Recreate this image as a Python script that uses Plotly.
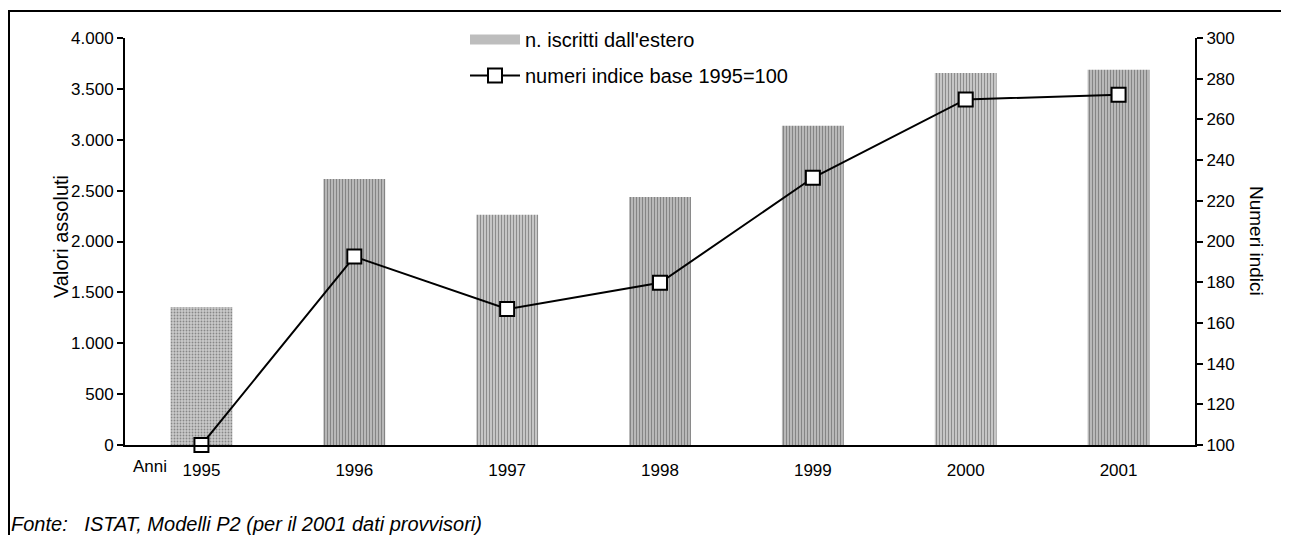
import plotly.graph_objects as go

years = ["1995", "1996", "1997", "1998", "1999", "2000", "2001"]
iscritti = [1357, 2614, 2262, 2438, 3137, 3657, 3687]
indici = [100, 192.6, 166.8, 179.7, 231.3, 269.8, 272.1]
left_ticks = [0, 500, 1000, 1500, 2000, 2500, 3000, 3500, 4000]
right_ticks = [100, 120, 140, 160, 180, 200, 220, 240, 260, 280, 300]

bar_bg = ["#cacaca", "#b8b8b8", "#c6c6c6", "#b8b8b8", "#b8b8b8", "#c6c6c6", "#b8b8b8"]
bar_fg = ["#c0c0c0", "#aeaeae", "#bcbcbc", "#aeaeae", "#aeaeae", "#bcbcbc", "#aeaeae"]
bar_shape = [".", "|", "|", "|", "|", "|", "|"]

FONT = "Liberation Sans, Arial, sans-serif"
OFF = 8  # page body offset
W, H = 1289 - OFF, 535 - OFF
L, T = 125 - OFF, 38 - OFF
R = W - (1195 - OFF)
B = H - (445 - OFF)
pw, ph = W - L - R, H - T - B

def px_x(p):
    return (p - OFF - L) / pw

def px_y(p):
    return (H - B - (p - OFF)) / ph

fig = go.Figure()

fig.add_trace(go.Bar(
    x=years, y=iscritti, name="n. iscritti dall'estero", showlegend=False,
    marker=dict(color=bar_bg, line=dict(width=0),
                pattern=dict(shape=bar_shape, fgcolor=bar_fg, bgcolor=bar_bg,
                             size=3, solidity=0.3)),
    width=0.405, yaxis="y",
))
# legend proxy for bars (wide swatch)
fig.add_trace(go.Scatter(
    x=[None], y=[None], mode="lines", name="n. iscritti dall'estero",
    line=dict(color="#bdbdbd", width=12), legendgroup="a", yaxis="y",
))
fig.add_trace(go.Scatter(
    x=years, y=indici, mode="lines+markers", name="numeri indice base 1995=100",
    line=dict(color="black", width=2),
    marker=dict(symbol="square", size=14, color="white", line=dict(color="black", width=2)),
    yaxis="y2", legendgroup="b", cliponaxis=False,
))

fig.update_layout(
    width=W, height=H,
    margin=dict(l=L, r=R, t=T, b=B, autoexpand=False),
    paper_bgcolor="white", plot_bgcolor="white",
    font=dict(family=FONT, size=17, color="black"),
    separators=",.",
    bargap=0.595,
    showlegend=True,
    legend=dict(x=px_x(465), y=px_y(20), xanchor="left", yanchor="top",
                bgcolor="rgba(0,0,0,0)", font=dict(size=20), tracegroupgap=7,
                traceorder="grouped", itemwidth=50),
    xaxis=dict(type="category", showline=True, linecolor="black", linewidth=2,
               ticks="outside", ticklen=9, tickcolor="rgba(0,0,0,0)",
               showgrid=False, zeroline=False, tickfont=dict(size=17)),
    yaxis=dict(range=[0, 4000], tickvals=left_ticks, tickformat=",d",
               showline=True, linecolor="black", linewidth=2, ticks="outside",
               ticklen=6, tickwidth=2, tickcolor="black", showgrid=False, zeroline=False,
               tickfont=dict(size=17)),
    yaxis2=dict(range=[100, 300], tickvals=right_ticks, overlaying="y", side="right",
                showline=True, linecolor="black", linewidth=2, ticks="outside",
                ticklen=6, tickwidth=2, tickcolor="black", showgrid=False, zeroline=False,
                tickfont=dict(size=17)),
    shapes=[dict(type="rect", xref="paper", yref="paper",
                 x0=px_x(9), x1=px_x(1310), y0=px_y(560), y1=px_y(11),
                 line=dict(color="black", width=2), fillcolor="rgba(0,0,0,0)", layer="below")],
    annotations=[
        dict(text="Valori assoluti", xref="paper", yref="paper", x=px_x(61), y=px_y(237),
             showarrow=False, textangle=-90, font=dict(size=20), xanchor="center", yanchor="middle"),
        dict(text="Anni", xref="paper", yref="paper", x=px_x(150), y=px_y(467),
             showarrow=False, font=dict(size=17), xanchor="center", yanchor="middle"),
        dict(text="Numeri indici", xref="paper", yref="paper", x=px_x(1256), y=px_y(241),
             showarrow=False, textangle=90, font=dict(size=19), xanchor="center", yanchor="middle"),
        dict(text="<i>Fonte:   ISTAT, Modelli P2 (per il 2001 dati provvisori)</i>",
             xref="paper", yref="paper", x=px_x(9), y=px_y(524), showarrow=False,
             font=dict(size=20), xanchor="left", yanchor="middle"),
    ],
)

fig.write_html("out.html")
